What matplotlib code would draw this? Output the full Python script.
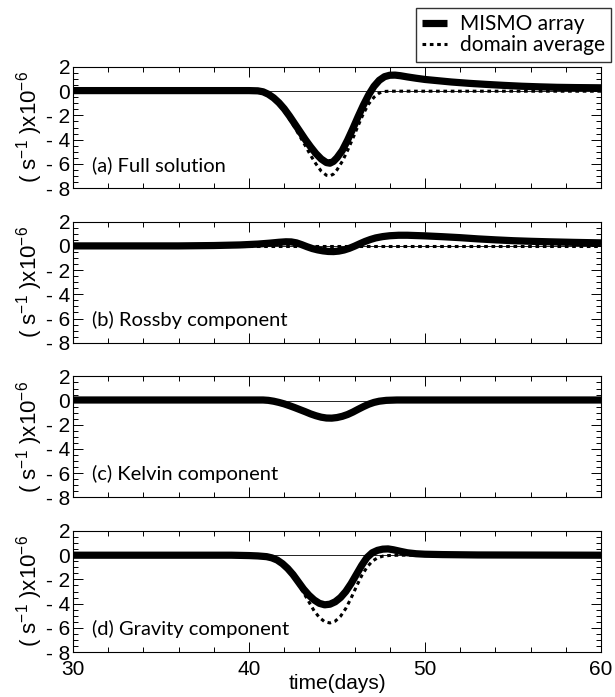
import matplotlib
matplotlib.use("Agg")
import matplotlib.pyplot as plt
from matplotlib.ticker import MultipleLocator, FuncFormatter
from matplotlib.lines import Line2D

# ---------------- data ----------------
panel_labels = ["(a) Full solution", "(b) Rossby component",
                "(c) Kelvin component", "(d) Gravity component"]
legend_labels = ["MISMO array", "domain average"]

a_mismo_t = [30, 35, 40.0, 40.5, 40.8, 41.1, 41.4, 41.7, 42.0, 42.3, 42.6, 42.9, 43.2,
             43.5, 43.8, 44.1, 44.4, 44.6, 44.8, 45.0, 45.3, 45.6, 45.9, 46.2, 46.5,
             46.8, 47.1, 47.4, 47.7, 48.0, 48.3, 48.6, 49.0, 49.5, 50.0, 50.5, 51.5,
             52.5, 53.5, 54.5, 55.5, 56.5, 57.5, 58.5, 60]
a_mismo_v = [0.05, 0.05, 0.05, 0.03, -0.05, -0.25, -0.55, -0.95, -1.45, -2.05, -2.7, -3.35, -4.0,
             -4.6, -5.15, -5.6, -5.9, -5.95, -5.8, -5.5, -4.9, -4.05, -3.1, -2.1, -1.15,
             -0.3, 0.4, 0.9, 1.2, 1.32, 1.33, 1.28, 1.18, 1.07, 0.97, 0.9, 0.76,
             0.65, 0.56, 0.48, 0.41, 0.36, 0.32, 0.3, 0.28]
a_dom_t = [30, 40.0, 40.5, 40.8, 41.1, 41.4, 41.7, 42.0, 42.3, 42.6, 42.9, 43.2, 43.5,
           43.8, 44.1, 44.4, 44.6, 44.8, 45.0, 45.3, 45.6, 45.9, 46.2, 46.5, 46.8,
           47.1, 47.4, 47.7, 48.0, 60]
a_dom_v = [0.0, 0.0, -0.02, -0.1, -0.3, -0.65, -1.1, -1.65, -2.3, -3.0, -3.75, -4.5, -5.3,
           -6.0, -6.6, -6.95, -7.0, -6.85, -6.5, -5.8, -4.9, -3.9, -2.85, -1.85, -1.05,
           -0.5, -0.15, -0.02, 0.0, 0.0]

b_mismo_t = [30, 36, 38, 39.5, 40.5, 41.2, 41.7, 42.1, 42.4, 42.7, 43.0, 43.3, 43.6,
             43.9, 44.2, 44.5, 44.8, 45.1, 45.4, 45.7, 46.0, 46.3, 46.6, 46.9, 47.2,
             47.6, 48.0, 48.5, 49.0, 50.0, 51.0, 52.0, 53.0, 54.0, 55.0, 56.0, 57.0,
             58.5, 60]
b_mismo_v = [0.0, 0.0, 0.03, 0.08, 0.15, 0.23, 0.3, 0.34, 0.33, 0.25, 0.1, -0.07, -0.22,
             -0.33, -0.41, -0.46, -0.47, -0.43, -0.34, -0.2, -0.02, 0.18, 0.37, 0.53, 0.66,
             0.77, 0.84, 0.88, 0.88, 0.83, 0.76, 0.68, 0.58, 0.5, 0.43, 0.38, 0.34,
             0.29, 0.25]
b_dom_t = [30, 60]
b_dom_v = [0.0, 0.0]

c_mismo_t = [30, 40.8, 41.1, 41.4, 41.7, 42.0, 42.3, 42.6, 42.9, 43.2, 43.5, 43.8, 44.1,
             44.4, 44.7, 45.0, 45.3, 45.6, 45.9, 46.2, 46.5, 46.8, 47.1, 47.4, 47.8,
             48.4, 60]
c_mismo_v = [0.05, 0.05, 0.02, -0.05, -0.15, -0.27, -0.42, -0.58, -0.75, -0.92, -1.1, -1.25, -1.37,
             -1.44, -1.45, -1.4, -1.3, -1.15, -0.95, -0.72, -0.5, -0.3, -0.15, -0.05, 0.02,
             0.05, 0.05]
c_dom_t = [30, 40.8, 41.1, 41.4, 41.7, 42.0, 42.3, 42.6, 42.9, 43.2, 43.5, 43.8, 44.1,
           44.4, 44.7, 45.0, 45.3, 45.6, 45.9, 46.2, 46.5, 46.8, 47.1, 47.4, 47.8,
           48.4, 60]
c_dom_v = [0.05, 0.05, 0.02, -0.05, -0.15, -0.27, -0.42, -0.58, -0.75, -0.92, -1.1, -1.25, -1.37,
           -1.44, -1.45, -1.4, -1.3, -1.15, -0.95, -0.72, -0.5, -0.3, -0.15, -0.05, 0.02,
           0.05, 0.05]

d_mismo_t = [30, 39, 40.0, 40.5, 41.0, 41.3, 41.6, 41.9, 42.2, 42.5, 42.8, 43.1, 43.4,
             43.7, 44.0, 44.3, 44.6, 44.9, 45.2, 45.5, 45.8, 46.1, 46.4, 46.7, 47.0,
             47.3, 47.6, 47.9, 48.2, 48.6, 49.0, 49.5, 50.0, 51, 53, 60]
d_mismo_v = [0.0, 0.0, -0.03, -0.06, -0.12, -0.22, -0.4, -0.7, -1.1, -1.6, -2.2, -2.8, -3.3,
             -3.7, -3.98, -4.1, -4.05, -3.85, -3.5, -3.0, -2.35, -1.6, -0.85, -0.2, 0.2,
             0.4, 0.5, 0.52, 0.45, 0.32, 0.2, 0.12, 0.08, 0.05, 0.02, 0.0]
d_dom_t = [30, 40.0, 40.5, 41.0, 41.3, 41.6, 41.9, 42.2, 42.5, 42.8, 43.1, 43.4, 43.7,
           44.0, 44.3, 44.6, 44.9, 45.2, 45.5, 45.8, 46.1, 46.4, 46.7, 47.0, 47.3,
           47.6, 48.0, 48.5, 60]
d_dom_v = [0.0, -0.03, -0.06, -0.13, -0.25, -0.45, -0.78, -1.2, -1.75, -2.4, -3.1, -3.85, -4.6,
           -5.15, -5.5, -5.6, -5.45, -5.05, -4.4, -3.55, -2.6, -1.7, -1.0, -0.5, -0.22,
           -0.08, -0.02, 0.0, 0.0]

series = [(a_mismo_t, a_mismo_v, a_dom_t, a_dom_v),
          (b_mismo_t, b_mismo_v, b_dom_t, b_dom_v),
          (c_mismo_t, c_mismo_v, c_dom_t, c_dom_v),
          (d_mismo_t, d_mismo_v, d_dom_t, d_dom_v)]

xlim = (30, 60)
ylim = (-8, 2)
xticks = [30, 40, 50, 60]
yticks = [-8, -6, -4, -2, 0, 2]

# ---------------- figure ----------------
plt.rcParams['font.family'] = ['Liberation Sans', 'DejaVu Sans']
plt.rcParams['mathtext.fontset'] = 'custom'
plt.rcParams['mathtext.rm'] = 'Liberation Sans'
plt.rcParams['mathtext.it'] = 'Liberation Sans'

W, H = 615, 697
fig = plt.figure(figsize=(W / 100, H / 100), dpi=100)

left = 73 / W
width = 528 / W
tops = [67, 221.7, 376.4, 531]
ph = 121

def yfmt(v, pos):
    v = int(round(v))
    return f"- {abs(v)}" if v < 0 else f"{v}"

for i, (mt, mv, dt, dv) in enumerate(series):
    bottom = 1 - (tops[i] + ph) / H
    ax = fig.add_axes([left, bottom, width, ph / H])
    ax.axhline(0, color='k', lw=0.6, zorder=1)
    ax.plot(dt, dv, color='k', lw=2.2, linestyle=(0, (1.2, 1.2)), zorder=2,
            dash_capstyle='butt', dash_joinstyle='round')
    ax.plot(mt, mv, color='k', lw=5.2, zorder=3, solid_capstyle='butt',
            solid_joinstyle='round')
    ax.set_xlim(*xlim)
    ax.set_ylim(*ylim)
    ax.set_xticks(xticks)
    ax.set_yticks(yticks)
    ax.xaxis.set_minor_locator(MultipleLocator(2))
    ax.yaxis.set_minor_locator(MultipleLocator(0.5))
    ax.yaxis.set_major_formatter(FuncFormatter(yfmt))
    ax.tick_params(which='both', direction='in', top=True, right=True, width=0.7,
                   labelsize=15, colors='k')
    ax.tick_params(which='major', length=7.5, pad=2)
    ax.tick_params(which='minor', length=3.8)
    ax.tick_params(axis='x', which='major', pad=6)
    if i < 3:
        ax.set_xticklabels([])
    else:
        ax.set_xlabel("time(days)", fontsize=15, labelpad=-4)
    for sp in ax.spines.values():
        sp.set_linewidth(0.8)
    ax.set_ylabel(r"( s$^{-1}$ )x10$^{-6}$", fontsize=16, labelpad=1)
    ax.text(31.1, -6.1, panel_labels[i], fontsize=14.5, family='Lato',
            ha='left', va='center')

handles = [Line2D([], [], color='k', lw=5.2, solid_capstyle='butt'),
           Line2D([], [], color='k', lw=2.2, linestyle=(0, (1.2, 1.2)))]
leg = fig.legend(handles, legend_labels, loc='upper right',
                 bbox_to_anchor=(611 / W, 1 - 8 / H), frameon=True, fancybox=False,
                 edgecolor='k', handlelength=1.2, borderpad=0.3,
                 labelspacing=0.05, handletextpad=0.6, borderaxespad=0,
                 prop={'family': 'Lato', 'size': 15})
leg.get_frame().set_linewidth(1.0)

fig.savefig("out.png", dpi=100)
